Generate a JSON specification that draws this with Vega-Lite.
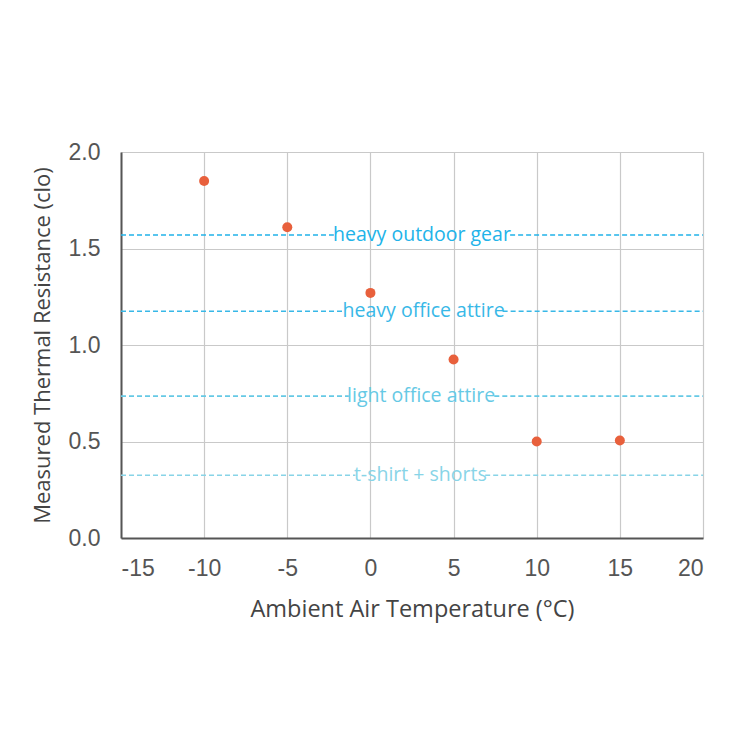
{
  "$schema": "https://vega.github.io/schema/vega-lite/v6.json",
  "autosize": "none",
  "width": 582,
  "height": 386,
  "padding": {"left": 121, "top": 152, "right": 47, "bottom": 212},
  "background": "white",
  "datasets": {
    "measured": [
      {"temp": -10, "clo": 1.85},
      {"temp": -5, "clo": 1.61},
      {"temp": 0, "clo": 1.27},
      {"temp": 5, "clo": 0.925},
      {"temp": 10, "clo": 0.5},
      {"temp": 15, "clo": 0.505}
    ],
    "segments": [
      {"label": "heavy outdoor gear", "clo": 1.57, "from": -15, "to": -2.2},
      {"label": "heavy outdoor gear", "clo": 1.57, "from": 8.4, "to": 20},
      {"label": "heavy office attire", "clo": 1.175, "from": -15, "to": -1.55},
      {"label": "heavy office attire", "clo": 1.175, "from": 7.95, "to": 20},
      {"label": "light office attire", "clo": 0.735, "from": -15, "to": -1.3},
      {"label": "light office attire", "clo": 0.735, "from": 7.45, "to": 20},
      {"label": "t-shirt + shorts", "clo": 0.325, "from": -15, "to": -0.9},
      {"label": "t-shirt + shorts", "clo": 0.325, "from": 6.9, "to": 20}
    ],
    "levels": [
      {"label": "heavy outdoor gear", "clo": 1.57, "temp": 3.1},
      {"label": "heavy office attire", "clo": 1.175, "temp": 3.2},
      {"label": "light office attire", "clo": 0.735, "temp": 3.05},
      {"label": "t-shirt + shorts", "clo": 0.325, "temp": 3.0}
    ]
  },
  "config": {
    "view": {"stroke": null},
    "axis": {
      "gridColor": "#c9c9c9",
      "gridWidth": 1.2,
      "domainColor": "#555555",
      "domainWidth": 2,
      "ticks": false,
      "labelFont": "Liberation Sans",
      "labelFontSize": 23,
      "labelColor": "#555555",
      "titleFont": "Open Sans",
      "titleFontWeight": "normal",
      "titleColor": "#444444"
    }
  },
  "encoding": {
    "y": {
      "field": "clo",
      "type": "quantitative",
      "title": "Measured Thermal Resistance (clo)",
      "scale": {"domain": [0, 2], "nice": false},
      "axis": {"values": [0, 0.5, 1, 1.5, 2], "labelExpr": "format(datum.value, '.1f')", "labelPadding": 21, "titlePadding": 14, "titleFontSize": 22}
    },
    "color": {"field": "label", "type": "nominal", "legend": null,
      "scale": {"domain": ["heavy outdoor gear", "heavy office attire", "light office attire", "t-shirt + shorts"],
                "range": ["#22b3e9", "#38b8e7", "#66c9e5", "#88d4e7"]}}
  },
  "layer": [
    {
      "data": {"name": "segments"},
      "mark": {"type": "rule", "strokeDash": [5, 3], "strokeWidth": 1.6},
      "encoding": {
        "x": {"field": "from", "type": "quantitative",
          "title": "Ambient Air Temperature (°C)",
          "scale": {"domain": [-15, 20], "nice": false},
          "axis": {"values": [-15, -10, -5, 0, 5, 10, 15, 20], "labelExpr": "toString(datum.value)", "labelPadding": 19, "titlePadding": 17, "titleFontSize": 23.5}},
        "x2": {"field": "to"}
      }
    },
    {
      "data": {"name": "levels"},
      "mark": {"type": "text", "font": "Open Sans", "fontSize": 19.5, "baseline": "middle", "align": "center"},
      "encoding": {
        "x": {"field": "temp", "type": "quantitative"},
        "text": {"field": "label"}
      }
    },
    {
      "data": {"name": "measured"},
      "mark": {"type": "point", "filled": true, "size": 100, "opacity": 1, "color": "#e8603c"},
      "encoding": {
        "x": {"field": "temp", "type": "quantitative"},
        "color": {"value": "#e8603c"}
      }
    }
  ]
}
